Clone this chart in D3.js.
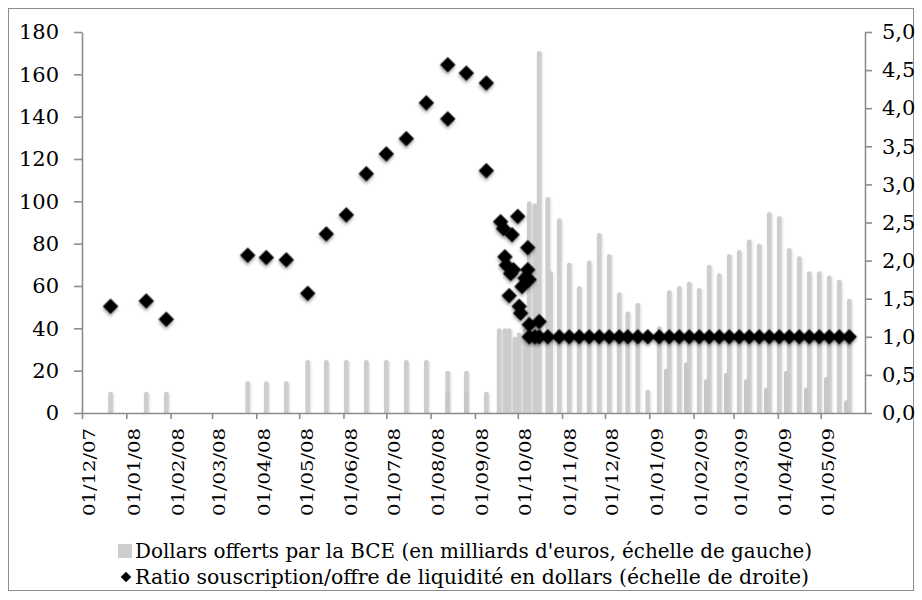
<!DOCTYPE html>
<html><head><meta charset="utf-8">
<script src="https://cdn.jsdelivr.net/npm/d3@7"></script>
<style>body{margin:0;background:#fff} svg{display:block}</style>
</head><body><svg id="c" width="922" height="600"></svg>
<script>
// ---------- DATA ----------
const leftTicks = [0,20,40,60,80,100,120,140,160,180];
const rightTicks = [0,0.5,1,1.5,2,2.5,3,3.5,4,4.5,5];
const monthTicks = ["2007-12-01","2008-01-01","2008-02-01","2008-03-01","2008-04-01","2008-05-01","2008-06-01","2008-07-01","2008-08-01","2008-09-01","2008-10-01","2008-11-01","2008-12-01","2009-01-01","2009-02-01","2009-03-01","2009-04-01","2009-05-01"];

// Dollars offerts par la BCE (milliards), main operations
const barDates = ["2007-12-21","2008-01-15","2008-01-29","2008-03-26","2008-04-08","2008-04-22","2008-05-07","2008-05-20","2008-06-03","2008-06-17","2008-07-01","2008-07-15","2008-07-29","2008-08-13","2008-08-26","2008-09-09","2008-09-18","2008-09-22","2008-09-25","2008-09-29","2008-10-02","2008-10-06","2008-10-09","2008-10-13","2008-10-16","2008-10-22","2008-10-24","2008-10-30","2008-11-06","2008-11-13","2008-11-20","2008-11-27","2008-12-04","2008-12-11","2008-12-17","2008-12-24","2008-12-31","2009-01-08","2009-01-15","2009-01-22","2009-01-29","2009-02-05","2009-02-12","2009-02-19","2009-02-26","2009-03-05","2009-03-12","2009-03-19","2009-03-26","2009-04-02","2009-04-09","2009-04-16","2009-04-23","2009-04-30","2009-05-07","2009-05-14","2009-05-21"];
const barValues = [10,10,10,15,15,15,25,25,25,25,25,25,25,20,20,10,40,40,40,36,38,40,100,99,171,102,67,92,71,60,72,85,75,57,48,52,11,41,58,60,62,59,70,66,75,77,82,80,95,93,78,74,67,67,65,63,54];
// secondary (overlapping) operations
const bar2Dates = ["2008-08-13","2008-08-26","2009-01-13","2009-01-27","2009-02-10","2009-02-24","2009-03-10","2009-03-24","2009-04-07","2009-04-21","2009-05-05","2009-05-19"];
const bar2Values = [10,10,21,24,16,19,16,12,20,12,17,6];

// Ratio souscription/offre (right axis)
const ratioDates = ["2007-12-21","2008-01-15","2008-01-29","2008-03-26","2008-04-08","2008-04-22","2008-05-07","2008-05-20","2008-06-03","2008-06-17","2008-07-01","2008-07-15","2008-07-29","2008-08-13","2008-08-13","2008-08-26","2008-09-09","2008-09-09","2008-09-19","2008-09-21","2008-09-22","2008-09-23","2008-09-25","2008-09-26","2008-09-27","2008-09-28","2008-10-01","2008-10-02","2008-10-03","2008-10-04","2008-10-06","2008-10-08","2008-10-08","2008-10-09","2008-10-09","2008-10-16","2008-10-09","2008-10-13","2008-10-16","2008-10-22","2008-10-30","2008-11-06","2008-11-13","2008-11-20","2008-11-27","2008-12-04","2008-12-11","2008-12-17","2008-12-24","2008-12-31","2009-01-08","2009-01-15","2009-01-22","2009-01-29","2009-02-05","2009-02-12","2009-02-19","2009-02-26","2009-03-05","2009-03-12","2009-03-19","2009-03-26","2009-04-02","2009-04-09","2009-04-16","2009-04-23","2009-04-30","2009-05-07","2009-05-14","2009-05-21"];
const ratioValues = [1.40,1.47,1.23,2.07,2.04,2.01,1.57,2.35,2.60,3.14,3.40,3.60,4.07,4.57,3.86,4.46,4.33,3.18,2.51,2.42,2.05,1.94,1.54,1.83,2.34,1.88,2.58,1.40,1.31,1.66,1.77,2.17,1.88,1.75,1.16,1.20,1.0,1.0,1.0,1.0,1.0,1.0,1.0,1.0,1.0,1.0,1.0,1.0,1.0,1.0,1.0,1.0,1.0,1.0,1.0,1.0,1.0,1.0,1.0,1.0,1.0,1.0,1.0,1.0,1.0,1.0,1.0,1.0,1.0,1.0];

const legend1 = "Dollars offerts par la BCE (en milliards d'euros, échelle de gauche)";
const legend2 = "Ratio souscription/offre de liquidité en dollars (échelle de droite)";

// ---------- CHART ----------
const parse = d3.timeParse("%Y-%m-%d");
const fmt = d3.timeFormat("%d/%m/%y");
const svg = d3.select("#c");
const x = d3.scaleTime().domain([parse("2007-12-01"), parse("2009-06-01")]).range([82, 865]);
const yL = d3.scaleLinear().domain([0,180]).range([413, 32]);
const yR = d3.scaleLinear().domain([0,5]).range([413, 32]);
const axisCol = "#8c8c8c";
const serif = "'DejaVu Serif', 'Liberation Serif', serif";

const defs = svg.append("defs");
defs.append("clipPath").attr("id","clip").append("rect").attr("x",0).attr("y",0).attr("width",922).attr("height",413);
const f = defs.append("filter").attr("id","sh").attr("x","-50%").attr("y","-50%").attr("width","200%").attr("height","200%");
f.append("feDropShadow").attr("dx",1.5).attr("dy",2).attr("stdDeviation",1.5).attr("flood-color","#000").attr("flood-opacity",0.35);
const fb = defs.append("filter").attr("id","shb").attr("x","-100%").attr("y","-20%").attr("width","300%").attr("height","140%");
fb.append("feDropShadow").attr("dx",1).attr("dy",1).attr("stdDeviation",1).attr("flood-color","#000").attr("flood-opacity",0.12);

// border
svg.append("rect").attr("x",8.5).attr("y",8.5).attr("width",905).attr("height",582)
  .attr("fill","none").attr("stroke",axisCol).attr("stroke-width",1);

const bars = barDates.map((d,i)=>({date:parse(d), v:barValues[i]}));
const bars2 = bar2Dates.map((d,i)=>({date:parse(d), v:bar2Values[i]}));
const pts = ratioDates.map((d,i)=>({date:parse(d), v:ratioValues[i]}));

const bw = 4.8;
const gb = svg.append("g").attr("clip-path","url(#clip)");
gb.selectAll("rect.b").data(bars).join("rect").attr("class","b")
  .attr("x", d=>x(d.date)-bw/2).attr("width", bw)
  .attr("y", d=>yL(d.v)).attr("height", d=>yL(0)-yL(d.v)+4)
  .attr("rx", bw/2).attr("fill","#cdcdcd").attr("filter","url(#shb)");
gb.selectAll("rect.b2").data(bars2).join("rect").attr("class","b2")
  .attr("x", d=>x(d.date)-bw/2).attr("width", bw)
  .attr("y", d=>yL(d.v)).attr("height", d=>yL(0)-yL(d.v)+4)
  .attr("rx", bw/2).attr("fill","#c7c7c7");

// axes
const gL = svg.append("g").attr("transform","translate(82,0)")
  .call(d3.axisLeft(yL).tickValues(leftTicks).tickSize(8).tickSizeOuter(0).tickPadding(15).tickFormat(d3.format("d")));
const gR = svg.append("g").attr("transform","translate(865,0)")
  .call(d3.axisRight(yR).tickValues(rightTicks).tickSize(7).tickSizeOuter(0).tickPadding(10).tickFormat(d=>d3.format(".1f")(d).replace(".",",")));
const gX = svg.append("g").attr("transform","translate(0,413)")
  .call(d3.axisBottom(x).tickValues(monthTicks.map(parse)).tickSize(6).tickSizeOuter(0).tickFormat(""));
[gL,gR,gX].forEach(g=>{
  g.select(".domain").attr("stroke",axisCol).attr("stroke-width",1.6);
  g.selectAll(".tick line").attr("stroke",axisCol).attr("stroke-width",1.6);
  g.selectAll("text").attr("fill","#000").style("font-family",serif).style("font-size","21px");
});
gX.selectAll(".tick").append("text")
  .attr("transform","rotate(-90)").attr("x",-15).attr("y",7).attr("dy","0.35em")
  .attr("text-anchor","end").attr("fill","#000")
  .style("font-family",serif).style("font-size","17px")
  .attr("textLength",88).attr("lengthAdjust","spacingAndGlyphs")
  .text(d=>fmt(d));

// diamonds
const sym = d3.symbol().type(d3.symbolSquare).size(120);
svg.append("g").selectAll("path").data(pts).join("path")
  .attr("d", sym).attr("transform", d=>`translate(${x(d.date)},${yR(d.v)}) rotate(45)`)
  .attr("fill","#000").attr("filter","url(#sh)");

// legend
const lg = svg.append("g").style("font-family","'DejaVu Serif Condensed', 'DejaVu Serif', serif").style("font-size","20px");
lg.append("rect").attr("x",118).attr("y",544).attr("width",14).attr("height",14).attr("fill","#cdcdcd");
lg.append("text").attr("x",135).attr("y",551).attr("dy","0.35em").text(legend1).attr("textLength",677).attr("lengthAdjust","spacingAndGlyphs");
lg.append("path").attr("d", d3.symbol().type(d3.symbolSquare).size(55)).attr("transform","translate(126,577) rotate(45)").attr("fill","#000");
lg.append("text").attr("x",135).attr("y",577).attr("dy","0.35em").text(legend2).attr("textLength",674).attr("lengthAdjust","spacingAndGlyphs");
</script></body></html>
